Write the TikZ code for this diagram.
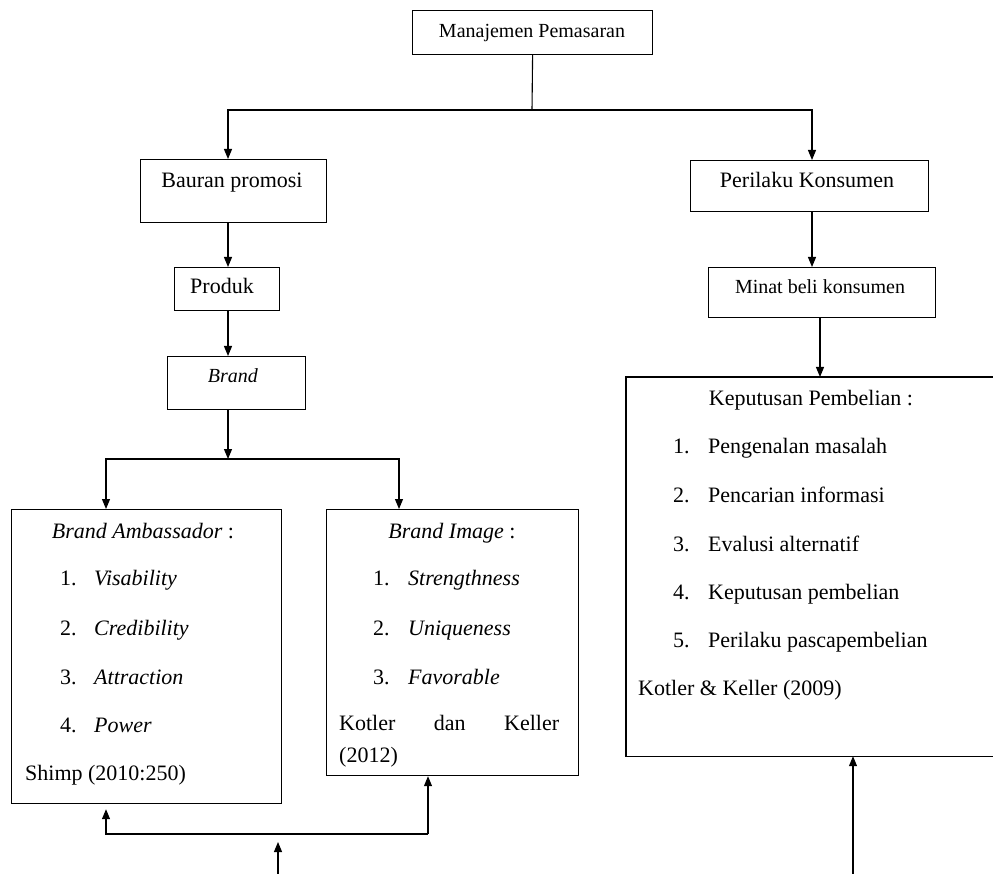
\documentclass[tikz,border=0pt]{standalone}
\usepackage{fontspec}
\setmainfont{Liberation Serif}
\usetikzlibrary{arrows.meta}
\begin{document}
\begin{tikzpicture}[x=1pt,y=-1pt,
  box/.style={draw, line width=1.2pt, inner sep=0pt, anchor=north west},
  tx/.style={inner sep=0pt, font=\fontsize{22}{26}\selectfont},
  txs/.style={inner sep=0pt, font=\fontsize{20}{24}\selectfont},
  arr/.style={line width=1.1pt, -{Triangle[length=10pt,width=8pt]}},
  ln/.style={line width=1.1pt}]
\useasboundingbox (0,0) rectangle (993,874);
% boxes
\node[box, minimum width=240pt, minimum height=44pt] (mp) at (412,10) {};
\node[box, minimum width=186pt, minimum height=63pt] (bp) at (140,159) {};
\node[box, minimum width=238pt, minimum height=51pt] (pk) at (690,160) {};
\node[box, minimum width=105pt, minimum height=43pt] (pr) at (174,267) {};
\node[box, minimum width=227pt, minimum height=50pt] (mb) at (708,267) {};
\node[box, minimum width=138pt, minimum height=53pt] (br) at (167,356) {};
\node[box, minimum width=270pt, minimum height=294pt] (ba) at (11,509) {};
\node[box, minimum width=252pt, minimum height=266pt] (bi) at (326,509) {};
\node[box, draw=none, minimum width=380pt, minimum height=378pt] (kp) at (626,377) {};
\draw[line width=1.2pt] (kp.north east) -- (kp.north west) -- (kp.south west) -- (kp.south east);
% simple texts
\node[txs, anchor=base] (mpt) at (532,38) {Manajemen Pemasaran};
\node[tx, anchor=base] (bpt) at (232,188) {Bauran promosi};
\node[tx, anchor=base] (pkt) at (807,188) {Perilaku Konsumen};
\node[tx, anchor=base] (prt) at (222,294) {Produk};
\node[txs, anchor=base] (mbt) at (820,294) {Minat beli konsumen};
\node[txs, anchor=base] (brt) at (233,382) {\textit{Brand}};
% Brand Ambassador
\node[tx, anchor=base] (bat) at (143,538) {\textit{Brand Ambassador} :};
\foreach \yy/\nn/\tt [count=\i] in {585/1./Visability, 635/2./Credibility, 684/3./Attraction, 732/4./Power} {
  \node[tx, anchor=base west] (ban\i) at (60,\yy) {\nn};
  \node[tx, anchor=base west] (bai\i) at (94,\yy) {\textit{\tt}};
}
\node[tx, anchor=base west] (bas) at (25,780) {Shimp (2010:250)};
% Brand Image
\node[tx, anchor=base] (bit) at (452,538) {\textit{Brand Image} :};
\foreach \yy/\nn/\tt [count=\i] in {585/1./Strengthness, 635/2./Uniqueness, 684/3./Favorable} {
  \node[tx, anchor=base west] (bin\i) at (373,\yy) {\nn};
  \node[tx, anchor=base west] (bii\i) at (408,\yy) {\textit{\tt}};
}
\node[tx, anchor=base west] (bis1) at (339,730) {\hbox to 220pt{Kotler\hfil dan\hfil Keller}};
\node[tx, anchor=base west] (bis2) at (339,762) {(2012)};
% Keputusan Pembelian
\node[tx, anchor=base] (kpt) at (811,405) {Keputusan Pembelian :};
\foreach \yy/\nn/\tt [count=\i] in {453/1./Pengenalan masalah, 502/2./Pencarian informasi, 551/3./Evalusi alternatif, 599/4./Keputusan pembelian, 647/5./Perilaku pascapembelian} {
  \node[tx, anchor=base west] (kpn\i) at (673,\yy) {\nn};
  \node[tx, anchor=base west] (kpi\i) at (708,\yy) {\tt};
}
\node[tx, anchor=base west] (kps) at (638,695) {Kotler \& Keller (2009)};
% columns
\coordinate (cL) at (228,0);
\coordinate (cR) at (812,0);
\coordinate (cM) at (820,0);
\coordinate (cBA) at (106,0);
\coordinate (cBI) at (399,0);
\coordinate (cBJ) at (428,0);
\coordinate (cK) at (853,0);
% connectors
\coordinate (j1) at (532,110);
\draw[ln] (mp.south) -- (j1);
\draw[arr] (j1) -| (cL |- bp.north);
\draw[arr] (j1) -| (cR |- pk.north);
\draw[arr] (cL |- bp.south) -- (cL |- pr.north);
\draw[arr] (cR |- pk.south) -- (cR |- mb.north);
\draw[arr] (cL |- pr.south) -- (cL |- br.north);
\draw[arr] (cM |- mb.south) -- (cM |- kp.north);
\coordinate (j2) at (228,459);
\draw[arr] (cL |- br.south) -- (j2);
\draw[arr] (j2) -| (cBA |- ba.north);
\draw[arr] (j2) -| (cBI |- bi.north);
\coordinate (j3) at (106,834);
\coordinate (j4) at (428,834);
\draw[arr] (j4) -- (j3) -- ([yshift=-5pt]cBA |- ba.south);
\draw[arr] (j4) -- (cBJ |- bi.south);
\coordinate (b1) at (278,874);
\coordinate (b1e) at (278,842);
\draw[arr] (b1) -- (b1e);
\coordinate (b2) at (853,874);
\draw[arr] (b2) -- (cK |- kp.south);
\end{tikzpicture}
\end{document}
